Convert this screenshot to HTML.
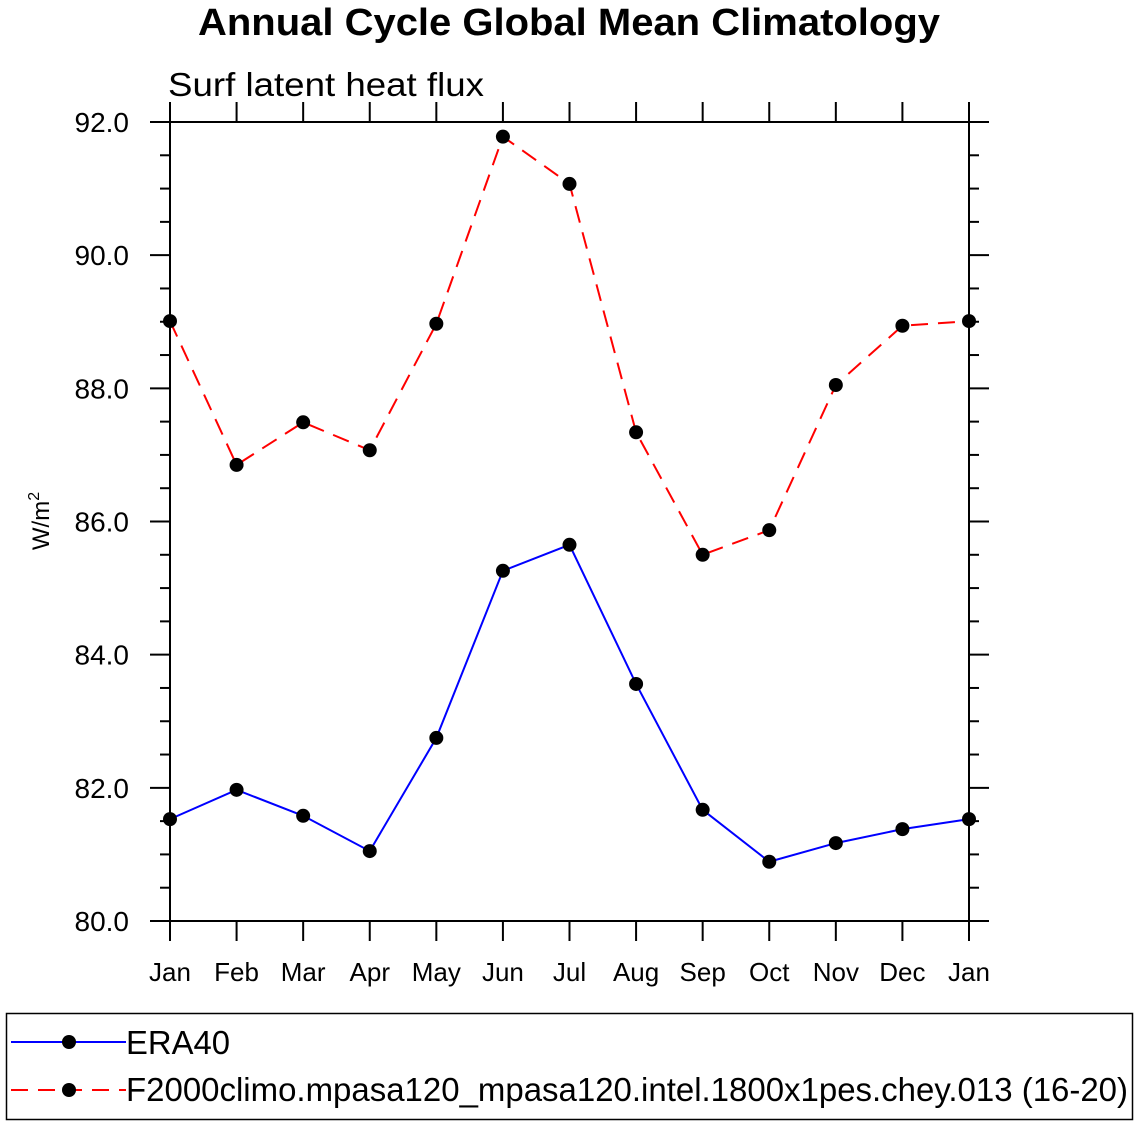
<!DOCTYPE html>
<html><head><meta charset="utf-8"><style>
html,body{margin:0;padding:0;background:#fff;}
svg{display:block;font-family:"Liberation Sans",Arial,sans-serif;}
</style></head><body>
<svg id="chart" width="1138" height="1126" xmlns="http://www.w3.org/2000/svg">
<text x="569" y="35" text-anchor="middle" font-size="38" font-weight="bold" textLength="742" lengthAdjust="spacingAndGlyphs">Annual Cycle Global Mean Climatology</text>
<text x="168" y="96" font-size="33" textLength="316" lengthAdjust="spacingAndGlyphs">Surf latent heat flux</text>
<text transform="translate(49,521) rotate(-90)" text-anchor="middle" font-size="24">W/m<tspan dy="-10" font-size="16">2</tspan></text>
<g id="axes"></g>
<g id="series"></g>
<g>
<rect x="6.5" y="1013.5" width="1126" height="106" fill="none" stroke="#000" stroke-width="1.5"/>
<g>
<line x1="11" y1="1042" x2="126" y2="1042" stroke="#00f" stroke-width="2"/>
<circle cx="69" cy="1042" r="7" fill="#000"/>
<text x="126" y="1054" font-size="33" textLength="104" lengthAdjust="spacingAndGlyphs">ERA40</text>
</g>
<g>
<line x1="11" y1="1090" x2="126" y2="1090" stroke="#f00" stroke-width="2" stroke-dasharray="17,10"/>
<circle cx="69" cy="1090" r="7" fill="#000"/>
<text x="126" y="1101" font-size="33" textLength="1002" lengthAdjust="spacingAndGlyphs">F2000climo.mpasa120_mpasa120.intel.1800x1pes.chey.013 (16-20)</text>
</g>
</g>
</svg>
<script>
const months=["Jan","Feb","Mar","Apr","May","Jun","Jul","Aug","Sep","Oct","Nov","Dec","Jan"];
const era40=[81.53,81.97,81.58,81.05,82.75,85.26,85.65,83.56,81.67,80.89,81.17,81.38,81.53];
const f2000=[89.01,86.85,87.49,87.07,88.97,91.78,91.07,87.34,85.50,85.87,88.05,88.94,89.01];
const yTicks=[80,82,84,86,88,90,92];
const X0=170,X1=969,Y0=921,Y1=122,YMIN=80,YMAX=92;
const xs=i=>X0+(X1-X0)*i/(months.length-1);
const ys=v=>Y0-(Y0-Y1)*(v-YMIN)/(YMAX-YMIN);
const NS="http://www.w3.org/2000/svg";
function mk(tag,attrs,parent){const e=document.createElementNS(NS,tag);for(const k in attrs)e.setAttribute(k,attrs[k]);parent.appendChild(e);return e;}
const ax=document.getElementById("axes");
const frame=mk("rect",{x:X0,y:Y1,width:X1-X0,height:Y0-Y1,fill:"none",stroke:"#000","stroke-width":2},ax);


months.forEach((m,i)=>{
  const x=xs(i);
  mk("line",{x1:x,y1:Y0,x2:x,y2:Y0+20,stroke:"#000","stroke-width":2},ax);
  mk("line",{x1:x,y1:Y1,x2:x,y2:Y1-20,stroke:"#000","stroke-width":2},ax);
  const t=mk("text",{x:x,y:981,"text-anchor":"middle","font-size":26},ax);
  t.textContent=m;
  
  
});
for(let v=YMIN;v<=YMAX+1e-9;v+=0.5){
  const y=ys(v);const major=Math.abs(v/2-Math.round(v/2))<1e-9;
  const L=major?20:10;
  mk("line",{x1:X0-L,y1:y,x2:X0,y2:y,stroke:"#000","stroke-width":2},ax);
  mk("line",{x1:X1,y1:y,x2:X1+L,y2:y,stroke:"#000","stroke-width":2},ax);
}
yTicks.forEach(v=>{
  const t=mk("text",{x:129,y:ys(v)+10,"text-anchor":"end","font-size":28},ax);
  t.textContent=v.toFixed(1);
  
  
});
const sg=document.getElementById("series");
function series(data,color,dash,name){
  const g=mk("g",{},sg);
  
  
  const p=mk("polyline",{points:data.map((v,i)=>xs(i)+","+ys(v)).join(" "),fill:"none",stroke:color,"stroke-width":2,"stroke-dasharray":dash},g);
  
  
  data.forEach((v,i)=>{
    const c=mk("circle",{cx:xs(i),cy:ys(v),r:7,fill:"#000"},g);
    
    
  });
}
series(f2000,"#f00","17,10","f2000-series");
series(era40,"#00f","none","era40-series");
</script>
</body></html>
